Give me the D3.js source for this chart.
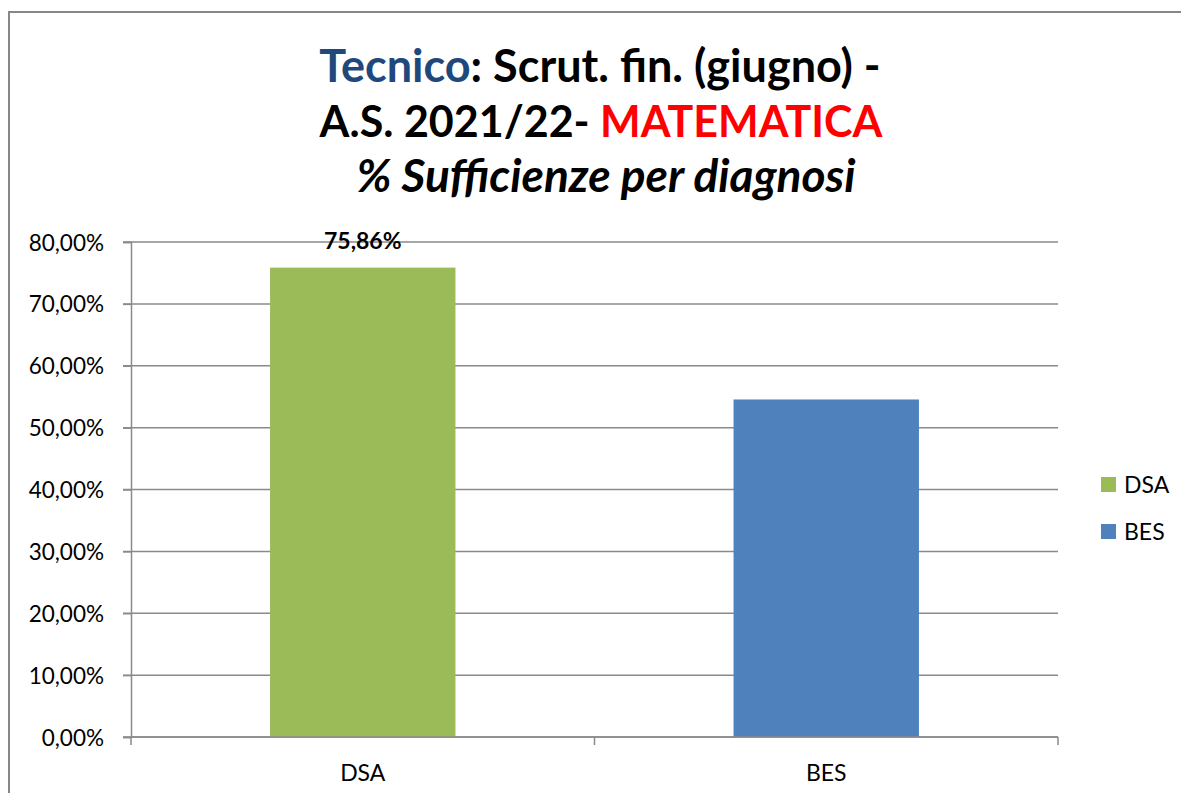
<!DOCTYPE html>
<html>
<head>
<meta charset="utf-8">
<script src="https://cdn.jsdelivr.net/npm/d3@7"></script>
<style>
  body { margin: 0; background: #fff; }
  svg { display: block; }
</style>
</head>
<body>
<div class="chart"></div>
<script>
var width = 1181, height = 793;

// data
var categories = ["DSA", "BES"];
var values = [75.86, 54.55];
var colors = ["#9BBB59", "#4F81BD"];
var yTicks = [0, 10, 20, 30, 40, 50, 60, 70, 80];

var font = "Lato, 'Open Sans', sans-serif";

var svg = d3.select(".chart").append("svg")
  .attr("width", width)
  .attr("height", height);

// outer frame of the chart area
svg.append("rect")
  .attr("x", 9).attr("y", 12)
  .attr("width", 1190).attr("height", 800)
  .attr("fill", "#fff")
  .attr("stroke", "#878787")
  .attr("stroke-width", 2);

// title
var title = svg.append("g").attr("font-family", font).attr("font-weight", "bold")
  .attr("text-anchor", "middle");

var t1 = title.append("text").attr("x", 600).attr("y", 82).attr("font-size", 45);
t1.append("tspan").attr("fill", "#1F497D").text("Tecnico");
t1.append("tspan").attr("fill", "#000").text(": Scrut. fin. (giugno) -");

var t2 = title.append("text").attr("x", 601).attr("y", 137).attr("font-size", 43);
t2.append("tspan").attr("fill", "#000").text("A.S. 2021/22- ");
t2.append("tspan").attr("fill", "#FF0000").text("MATEMATICA");

title.append("text").attr("x", 606).attr("y", 192).attr("font-size", 46)
  .attr("font-style", "italic").attr("fill", "#000")
  .text("% Sufficienze per diagnosi");

// scales
var x = d3.scaleBand().domain(categories).range([131, 1058]).paddingInner(0.6).paddingOuter(0.3);
var y = d3.scaleLinear().domain([0, 80]).range([737, 242]);

// gridlines
svg.append("g")
  .selectAll("line")
  .data(yTicks)
  .enter().append("line")
  .attr("x1", 123).attr("x2", 1058)
  .attr("y1", function (d) { return y(d) })
  .attr("y2", function (d) { return y(d) })
  .attr("stroke", "#8a8a8a")
  .attr("stroke-width", 1.5);

// y axis
var yAxis = svg.append("g")
  .attr("transform", "translate(131,0)")
  .call(d3.axisLeft(y).tickValues(yTicks).tickSize(8)
    .tickFormat(function (d) { return d3.format(".2f")(d).replace(".", ",") + "%" }));
yAxis.select(".domain").attr("stroke", "#8a8a8a").attr("stroke-width", 1.5);
yAxis.selectAll(".tick line").attr("stroke", "#8a8a8a").attr("stroke-width", 1.5);
yAxis.selectAll(".tick text")
  .attr("font-family", font).attr("font-size", 22.5).attr("fill", "#000")
  .attr("x", -27).attr("dy", "0.36em");

// bars
svg.append("g")
  .selectAll("rect")
  .data(values)
  .enter().append("rect")
  .attr("x", function (d, i) { return x(categories[i]) })
  .attr("width", x.bandwidth())
  .attr("y", function (d) { return y(d) })
  .attr("height", function (d) { return y(0) - y(d) })
  .attr("fill", function (d, i) { return colors[i] });

// data label (only the first bar has one)
svg.append("text")
  .attr("x", x(categories[0]) + x.bandwidth() / 2)
  .attr("y", y(values[0]) - 19)
  .attr("text-anchor", "middle")
  .attr("font-family", font).attr("font-weight", "bold").attr("font-size", 23)
  .text(d3.format(".2f")(values[0]).replace(".", ",") + "%");

// x axis
var xEdges = [131, 594.5, 1058];
svg.append("line")
  .attr("x1", 131).attr("x2", 1058)
  .attr("y1", y(0)).attr("y2", y(0))
  .attr("stroke", "#8a8a8a").attr("stroke-width", 1.5);
svg.append("g")
  .selectAll("line")
  .data(xEdges)
  .enter().append("line")
  .attr("x1", function (d) { return d }).attr("x2", function (d) { return d })
  .attr("y1", y(0)).attr("y2", y(0) + 8)
  .attr("stroke", "#8a8a8a").attr("stroke-width", 1.5);
svg.append("g")
  .selectAll("text")
  .data(categories)
  .enter().append("text")
  .attr("x", function (d) { return x(d) + x.bandwidth() / 2 })
  .attr("y", 781)
  .attr("text-anchor", "middle")
  .attr("font-family", font).attr("font-size", 23)
  .text(function (d) { return d });

// legend
var legend = svg.append("g")
  .selectAll("g")
  .data(categories)
  .enter().append("g")
  .attr("transform", function (d, i) { return "translate(1101," + (477 + i * 47) + ")" });
legend.append("rect")
  .attr("width", 15).attr("height", 15)
  .attr("fill", function (d, i) { return colors[i] });
legend.append("text")
  .attr("x", 23).attr("y", 16)
  .attr("font-family", font).attr("font-size", 23)
  .text(function (d) { return d });
</script>
</body>
</html>
